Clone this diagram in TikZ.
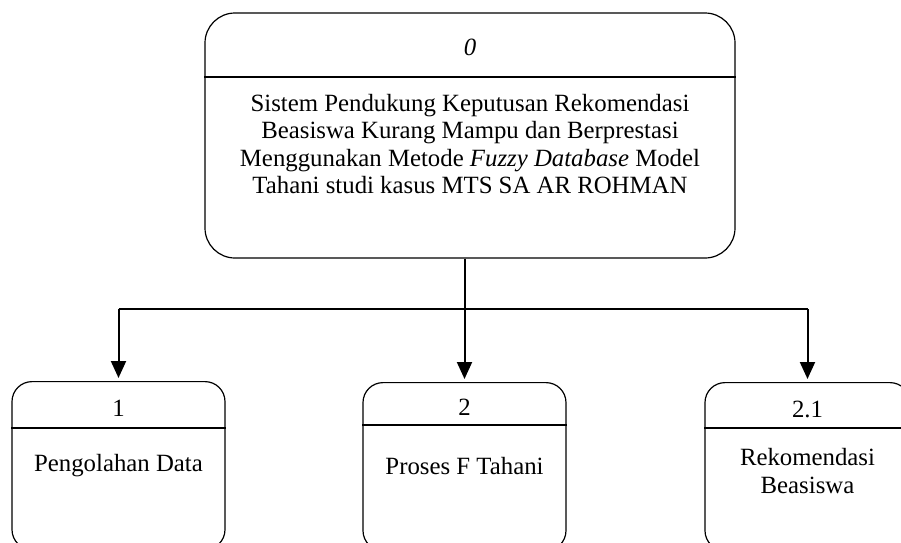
\documentclass[tikz,border=0pt]{standalone}
\usepackage{fontspec}
\setmainfont{Liberation Serif}
\usetikzlibrary{arrows.meta}
\begin{document}
\begin{tikzpicture}[x=0.5pt,y=-0.5pt,
  every node/.style={font=\fontsize{12.4}{13.8}\selectfont},
  procbox/.style={draw, line width=0.6pt, inner sep=0pt},
  divider/.style={line width=0.9pt},
  conn/.style={line width=1pt},
  arr/.style={line width=1pt, shorten >=1.5pt, -{Triangle[length=8.5pt,width=7.5pt]}},
  label/.style={align=center, inner sep=0pt}
]
\clip (0,0) rectangle (901,542);
\useasboundingbox (0,0) rectangle (901,542);

% context process
\node[procbox, rounded corners=15pt, minimum width=265pt, minimum height=122.5pt] (top) at (470,135.5) {};
\draw[divider] (top.west |- 0,77) -- (top.east |- 0,77);
\node[label, font=\fontsize{12.4}{13.8}\selectfont\itshape] (n0) at (470,47) {0};
\node[label] (d0) at (470,144) {Sistem Pendukung Keputusan Rekomendasi\\
Beasiswa Kurang Mampu dan Berprestasi\\
Menggunakan Metode \textit{Fuzzy Database} Model\\
Tahani studi kasus MTS SA AR ROHMAN};

% level-1 processes
\node[procbox, rounded corners=10pt, minimum width=106.5pt, minimum height=84pt, anchor=north] (b1) at (118.5,381) {};
\node[procbox, rounded corners=10pt, minimum width=101.5pt, minimum height=84pt, anchor=north] (b2) at (464.5,382) {};
\node[procbox, rounded corners=10pt, minimum width=102.5pt, minimum height=84pt, anchor=north] (b3) at (807.5,382) {};

\draw[divider] (b1.west |- 0,428) -- (b1.east |- 0,428);
\draw[divider] (b2.west |- 0,425) -- (b2.east |- 0,425);
\draw[divider] (b3.west |- 0,428) -- (b3.east |- 0,428);

\node[label] (n1) at (118.5,408) {1};
\node[label] (n2) at (464.5,407) {2};
\node[label] (n3) at (807.5,409) {2.1};

\node[label] (d1) at (118.5,466) {Pengolahan Data};
\node[label] (d2) at (464.5,466) {Proses F Tahani};
\node[label] (d3) at (807.5,471) {Rekomendasi\\Beasiswa};

% decomposition connectors
\coordinate (bus) at (464.5,309);
\draw[conn] (b1.north |- bus) -- (b3.north |- bus);
\draw[arr] (top.south -| b2.north) -- (b2.north);
\draw[arr] (b1.north |- bus) -- (b1.north);
\draw[arr] (b3.north |- bus) -- (b3.north);
\end{tikzpicture}
\end{document}
